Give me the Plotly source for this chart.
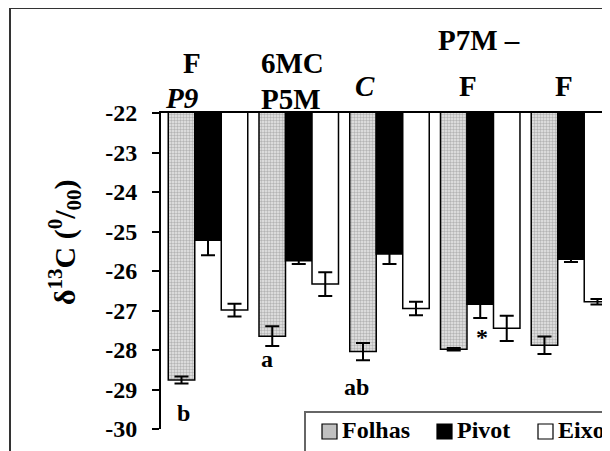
import plotly.graph_objects as go

# ---- data ----
categories = ["P9 F", "6MC P5M", "C", "P7M – F", "F"]
folhas = [-28.76, -27.65, -28.04, -27.98, -27.88]
folhas_err = [0.09, 0.25, 0.22, 0.03, 0.22]
pivot = [-25.22, -25.74, -25.57, -26.84, -25.70]
pivot_err = [0.38, 0.08, 0.25, 0.35, 0.07]
eixo = [-26.99, -26.33, -26.95, -27.45, -26.78]
eixo_err = [0.16, 0.30, 0.17, 0.32, 0.07]
series_names = ["Folhas", "Pivot", "Eixo"]
y_ticks = [-30, -29, -28, -27, -26, -25, -24, -23, -22]
y_ticktext = ["-30", "-29", "-28", "-27", "-26", "-25", "-24", "-23", "-22"]

# top (category) labels: (text, group index offset, pixel y, italic)
top_labels = [
    ("F", -0.18, 63, False), ("P9", -0.29, 98, True),
    ("6MC", 0.93, 63, False), ("P5M", 0.91, 99, False),
    ("C", 1.73, 86, True),
    ("P7M –", 2.99, 40, False), ("F", 2.87, 86, False),
    ("F", 3.92, 86, False),
]
# significance letters: (text, x in group units, y in data units)
letters = [("b", -0.275, -29.6), ("a", 0.65, -28.23), ("ab", 1.64, -28.94), ("*", 3.02, -27.67)]

# page has an 8px body margin; work in screen pixels and offset
OFF = 8
SW, SH = 610, 451
W, H = SW - OFF, SH - OFF
PL, PT, PB = 161, 113, 429          # plot area edges in screen pixels
L, T = PL - OFF, PT - OFF
B = H - (PB - OFF)
R = 0
PW, PH = W - L - R, H - T - B
def px(x):
    return (x - PL) / PW
def py(y):
    return (PB - y) / PH

FONT = "Liberation Serif"

fig = go.Figure()
fig.add_trace(go.Bar(
    x=categories, y=folhas, name=series_names[0],
    marker=dict(color="#c8c8c8", line=dict(color="black", width=1.5),
                pattern=dict(shape=".", size=3, solidity=0.5, fgcolor="#808080", bgcolor="#e8e8e8")),
    error_y=dict(type="data", array=folhas_err, color="black", thickness=2, width=7),
    showlegend=False))
fig.add_trace(go.Bar(
    x=categories, y=pivot, name=series_names[1],
    marker=dict(color="black", line=dict(color="black", width=1.5)),
    error_y=dict(type="data", array=pivot_err, color="black", thickness=2, width=7),
    showlegend=False))
fig.add_trace(go.Bar(
    x=categories, y=eixo, name=series_names[2],
    marker=dict(color="white", line=dict(color="black", width=1.5)),
    error_y=dict(type="data", array=eixo_err, color="black", thickness=2, width=7),
    showlegend=False))

ann = []
for text, gx, ypix, ital in top_labels:
    ann.append(dict(x=gx, xref="x", y=py(ypix), yref="paper", text=text, showarrow=False,
                    xanchor="center", yanchor="middle",
                    font=dict(family=FONT, size=29, color="black", weight="bold",
                              style="italic" if ital else "normal")))
for text, gx, gy in letters:
    ann.append(dict(x=gx, xref="x", y=gy, yref="y", text=text, showarrow=False,
                    xanchor="center", yanchor="middle",
                    font=dict(family=FONT, size=24, color="black", weight="bold")))
# y-axis title
ann.append(dict(x=px(64), xref="paper", y=py(242), yref="paper",
                text="δ<sup>13</sup>C (<sup>0</sup>/<sub>00</sub>)", textangle=-90,
                showarrow=False, xanchor="center", yanchor="middle",
                font=dict(family=FONT, size=30, color="black", weight="bold")))

shapes = []
# outer frame (cropped)
shapes.append(dict(type="rect", xref="paper", yref="paper", x0=px(10), x1=px(720), y0=py(520), y1=py(8),
                   line=dict(color="#333333", width=2), fillcolor="rgba(0,0,0,0)", layer="below"))
# legend box
shapes.append(dict(type="rect", xref="paper", yref="paper", x0=px(305), x1=px(720), y0=py(520), y1=py(412),
                   line=dict(color="#666666", width=2), fillcolor="white", layer="above"))
legend_items = [(series_names[0], 322, "#c0c0c0"), (series_names[1], 437, "black"), (series_names[2], 538, "white")]
for name, x0, col in legend_items:
    shapes.append(dict(type="rect", xref="paper", yref="paper", x0=px(x0), x1=px(x0 + 15),
                       y0=py(439), y1=py(424), line=dict(color="black", width=1.2), fillcolor=col, layer="above"))
    ann.append(dict(x=px(x0 + 18), xref="paper", y=py(430), yref="paper", text=name, showarrow=False,
                    xanchor="left", yanchor="middle",
                    font=dict(family=FONT, size=24, color="black", weight="bold")))

fig.update_layout(
    width=W, height=H, margin=dict(l=L, r=R, t=T, b=B, pad=0),
    paper_bgcolor="white", plot_bgcolor="white",
    barmode="group", bargap=0.124, bargroupgap=0,
    annotations=ann, shapes=shapes, showlegend=False,
    xaxis=dict(type="category", range=[-0.518, 4.43], side="top", showline=True, linecolor="black",
               linewidth=2, ticks="", showticklabels=False, showgrid=False, zeroline=False),
    yaxis=dict(range=[-30, -22], tickvals=y_ticks, ticktext=y_ticktext, ticks="outside", ticklen=7,
               tickwidth=2, tickcolor="black", showline=True, linecolor="black", linewidth=2,
               showgrid=False, zeroline=False, ticklabelstandoff=10,
               tickfont=dict(family=FONT, size=24, color="black", weight="bold")),
)

fig.write_html("out.html")
